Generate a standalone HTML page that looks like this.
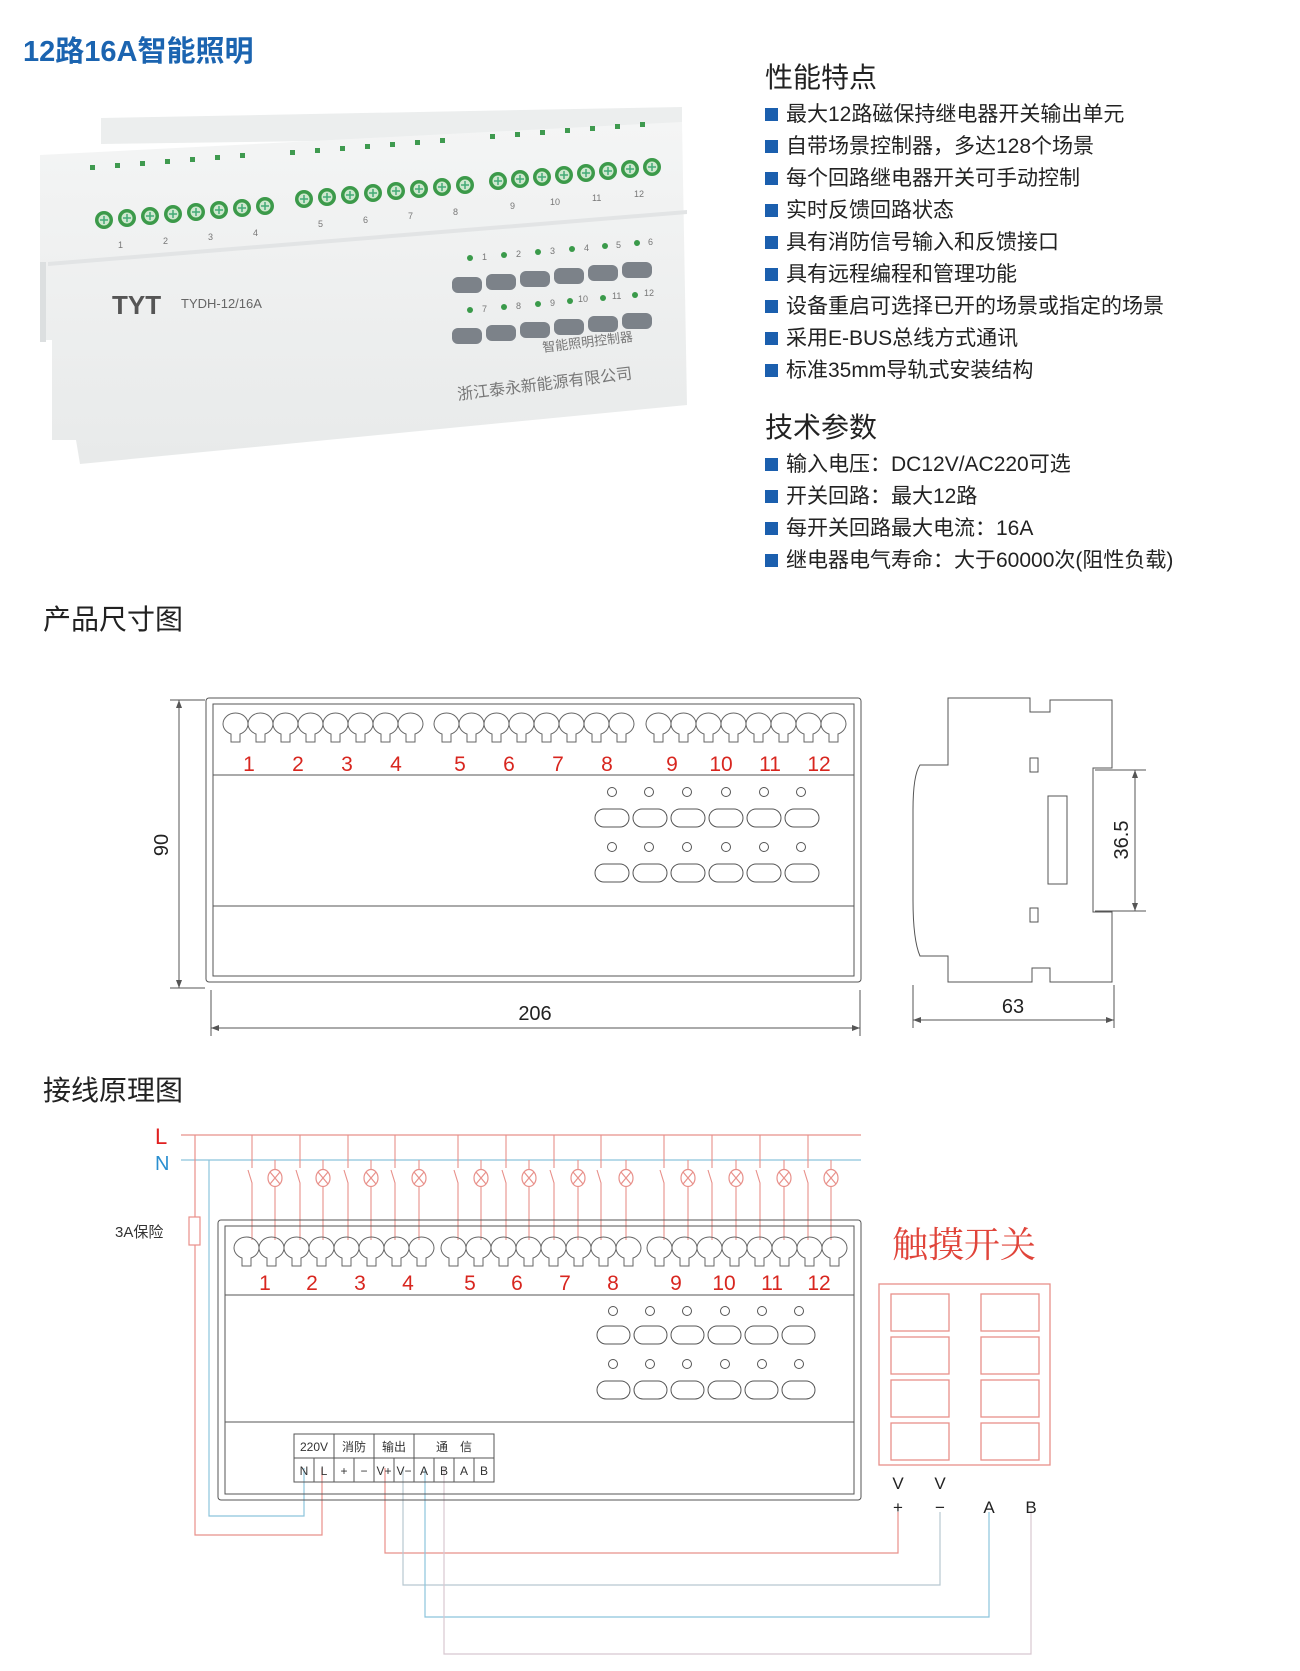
<!DOCTYPE html>
<html><head><meta charset="utf-8"><style>
html,body{margin:0;padding:0;background:#fff;}
body{width:1300px;height:1671px;position:relative;overflow:hidden;font-family:"Liberation Sans","Noto Sans CJK SC",sans-serif;}
.t{position:absolute;white-space:nowrap;}
.h{font-size:28px;color:#222;}
.b{font-size:21px;color:#222;}
.b:before{content:"";display:inline-block;width:13px;height:13px;background:#1b5fae;margin-right:8px;vertical-align:0px;}
</style></head><body>
<div class="t" style="left:23px;top:28px;font-size:29px;font-weight:bold;color:#1b64b0;">12路16A智能照明</div>
<div class="t h" style="left:765px;top:56px;">性能特点</div>
<div class="t b" style="left:765px;top:98px;">最大12路磁保持继电器开关输出单元</div>
<div class="t b" style="left:765px;top:130px;">自带场景控制器，多达128个场景</div>
<div class="t b" style="left:765px;top:162px;">每个回路继电器开关可手动控制</div>
<div class="t b" style="left:765px;top:194px;">实时反馈回路状态</div>
<div class="t b" style="left:765px;top:226px;">具有消防信号输入和反馈接口</div>
<div class="t b" style="left:765px;top:258px;">具有远程编程和管理功能</div>
<div class="t b" style="left:765px;top:290px;">设备重启可选择已开的场景或指定的场景</div>
<div class="t b" style="left:765px;top:322px;">采用E-BUS总线方式通讯</div>
<div class="t b" style="left:765px;top:354px;">标准35mm导轨式安装结构</div>
<div class="t h" style="left:765px;top:406px;">技术参数</div>
<div class="t b" style="left:765px;top:448px;">输入电压：DC12V/AC220可选</div>
<div class="t b" style="left:765px;top:480px;">开关回路：最大12路</div>
<div class="t b" style="left:765px;top:512px;">每开关回路最大电流：16A</div>
<div class="t b" style="left:765px;top:544px;">继电器电气寿命：大于60000次(阻性负载)</div>
<div class="t h" style="left:43px;top:598px;">产品尺寸图</div>
<div class="t h" style="left:43px;top:1069px;">接线原理图</div>

<svg width="1300" height="1671" style="position:absolute;left:0;top:0" xmlns="http://www.w3.org/2000/svg" font-family="Liberation Sans, Noto Sans CJK SC, sans-serif">
<defs>
<linearGradient id="gb" x1="0" y1="0" x2="0" y2="1"><stop offset="0" stop-color="#f4f5f5"/><stop offset="1" stop-color="#e8eaea"/></linearGradient>
<g id="sc"><circle r="9" fill="#3c9a4a"/><circle r="5.5" fill="#cfe8cf"/><path d="M-4,0h8M0,-4v8" stroke="#4a7" stroke-width="1.5"/></g>
<g id="tm" fill="none" stroke="#666" stroke-width="1"><path d="M0,12 a12.5,11 0 0 1 25,0 a12.5,11 0 0 1 -8,10 v8 h-9 v-8 a12.5,11 0 0 1 -8,-10z"/></g>
<g id="lamp" fill="none" stroke="#e8908a" stroke-width="1.2"><ellipse rx="7" ry="8.5"/><path d="M-5,-6L5,6M5,-6L-5,6"/></g>
</defs>

<!-- product photo -->
<polygon points="101,144 101,118 682,107 682,136" fill="#eceeee"/>
<polygon points="40,155 682,122 687,405 80,464 76,440 52,440 52,340 40,340" fill="url(#gb)"/>
<polygon points="48,262 687,210 687,214 48,266" fill="#e2e4e5"/>
<rect x="40" y="262" width="6" height="80" fill="#dcdfe0"/>
<g fill="#3f9a4f">
<rect x="90" y="165" width="5" height="5"/><rect x="115" y="163" width="5" height="5"/><rect x="140" y="161" width="5" height="5"/><rect x="165" y="159" width="5" height="5"/><rect x="190" y="157" width="5" height="5"/><rect x="215" y="155" width="5" height="5"/><rect x="240" y="153" width="5" height="5"/>
<rect x="290" y="150" width="5" height="5"/><rect x="315" y="148" width="5" height="5"/><rect x="340" y="146" width="5" height="5"/><rect x="365" y="144" width="5" height="5"/><rect x="390" y="142" width="5" height="5"/><rect x="415" y="140" width="5" height="5"/><rect x="440" y="138" width="5" height="5"/>
<rect x="490" y="134" width="5" height="5"/><rect x="515" y="132" width="5" height="5"/><rect x="540" y="130" width="5" height="5"/><rect x="565" y="128" width="5" height="5"/><rect x="590" y="126" width="5" height="5"/><rect x="615" y="124" width="5" height="5"/><rect x="640" y="122" width="5" height="5"/>
</g>
<g>
<use href="#sc" x="104" y="220"/><use href="#sc" x="127" y="218"/><use href="#sc" x="150" y="216"/><use href="#sc" x="173" y="214"/><use href="#sc" x="196" y="212"/><use href="#sc" x="219" y="210"/><use href="#sc" x="242" y="208"/><use href="#sc" x="265" y="206"/>
<use href="#sc" x="304" y="199"/><use href="#sc" x="327" y="197"/><use href="#sc" x="350" y="195"/><use href="#sc" x="373" y="193"/><use href="#sc" x="396" y="191"/><use href="#sc" x="419" y="189"/><use href="#sc" x="442" y="187"/><use href="#sc" x="465" y="185"/>
<use href="#sc" x="498" y="181"/><use href="#sc" x="520" y="179"/><use href="#sc" x="542" y="177"/><use href="#sc" x="564" y="175"/><use href="#sc" x="586" y="173"/><use href="#sc" x="608" y="171"/><use href="#sc" x="630" y="169"/><use href="#sc" x="652" y="167"/>
</g>
<g fill="#777" font-size="9">
<text x="118" y="248">1</text><text x="163" y="244">2</text><text x="208" y="240">3</text><text x="253" y="236">4</text>
<text x="318" y="227">5</text><text x="363" y="223">6</text><text x="408" y="219">7</text><text x="453" y="215">8</text>
<text x="510" y="209">9</text><text x="550" y="205">10</text><text x="592" y="201">11</text><text x="634" y="197">12</text>
<text x="482" y="260">1</text><text x="516" y="257">2</text><text x="550" y="254">3</text><text x="584" y="251">4</text><text x="616" y="248">5</text><text x="648" y="245">6</text>
<text x="482" y="312">7</text><text x="516" y="309">8</text><text x="550" y="306">9</text><text x="578" y="302">10</text><text x="612" y="299">11</text><text x="644" y="296">12</text>
</g>
<g fill="#3a9a4a">
<circle cx="470" cy="258" r="3"/><circle cx="504" cy="255" r="3"/><circle cx="538" cy="252" r="3"/><circle cx="572" cy="249" r="3"/><circle cx="605" cy="246" r="3"/><circle cx="637" cy="243" r="3"/>
<circle cx="470" cy="310" r="3"/><circle cx="504" cy="307" r="3"/><circle cx="538" cy="304" r="3"/><circle cx="570" cy="301" r="3"/><circle cx="603" cy="298" r="3"/><circle cx="635" cy="295" r="3"/>
</g>
<g fill="#7c8289">
<rect x="452" y="277" width="30" height="16" rx="6"/><rect x="486" y="274" width="30" height="16" rx="6"/><rect x="520" y="271" width="30" height="16" rx="6"/><rect x="554" y="268" width="30" height="16" rx="6"/><rect x="588" y="265" width="30" height="16" rx="6"/><rect x="622" y="262" width="30" height="16" rx="6"/>
<rect x="452" y="328" width="30" height="16" rx="6"/><rect x="486" y="325" width="30" height="16" rx="6"/><rect x="520" y="322" width="30" height="16" rx="6"/><rect x="554" y="319" width="30" height="16" rx="6"/><rect x="588" y="316" width="30" height="16" rx="6"/><rect x="622" y="313" width="30" height="16" rx="6"/>
</g>
<text x="112" y="314" font-size="26" font-weight="bold" fill="#555">TYT</text>
<text x="181" y="308" font-size="13" fill="#666">TYDH-12/16A</text>
<text x="543" y="352" font-size="13" fill="#777" transform="rotate(-7 543 352)">智能照明控制器</text>
<text x="458" y="400" font-size="16" fill="#777" transform="rotate(-7 458 400)">浙江泰永新能源有限公司</text>

<!-- dimension front -->
<g fill="none" stroke="#555" stroke-width="1">
<rect x="206" y="698" width="655" height="284" rx="3"/>
<rect x="213" y="704" width="641" height="272"/>
<line x1="213" y1="775" x2="854" y2="775"/>
<line x1="213" y1="906" x2="854" y2="906"/>
</g>
<g>
<use href="#tm" x="223" y="712"/><use href="#tm" x="248" y="712"/><use href="#tm" x="273" y="712"/><use href="#tm" x="298" y="712"/><use href="#tm" x="323" y="712"/><use href="#tm" x="348" y="712"/><use href="#tm" x="373" y="712"/><use href="#tm" x="398" y="712"/>
<use href="#tm" x="434" y="712"/><use href="#tm" x="459" y="712"/><use href="#tm" x="484" y="712"/><use href="#tm" x="509" y="712"/><use href="#tm" x="534" y="712"/><use href="#tm" x="559" y="712"/><use href="#tm" x="584" y="712"/><use href="#tm" x="609" y="712"/>
<use href="#tm" x="646" y="712"/><use href="#tm" x="671" y="712"/><use href="#tm" x="696" y="712"/><use href="#tm" x="721" y="712"/><use href="#tm" x="746" y="712"/><use href="#tm" x="771" y="712"/><use href="#tm" x="796" y="712"/><use href="#tm" x="821" y="712"/>
</g>
<g fill="#d8261f" font-size="21" text-anchor="middle">
<text x="249" y="771">1</text><text x="298" y="771">2</text><text x="347" y="771">3</text><text x="396" y="771">4</text>
<text x="460" y="771">5</text><text x="509" y="771">6</text><text x="558" y="771">7</text><text x="607" y="771">8</text>
<text x="672" y="771">9</text><text x="721" y="771">10</text><text x="770" y="771">11</text><text x="819" y="771">12</text>
</g>
<g fill="none" stroke="#555" stroke-width="1">
<circle cx="612" cy="792" r="4.5"/><circle cx="649" cy="792" r="4.5"/><circle cx="687" cy="792" r="4.5"/><circle cx="726" cy="792" r="4.5"/><circle cx="764" cy="792" r="4.5"/><circle cx="801" cy="792" r="4.5"/>
<circle cx="612" cy="847" r="4.5"/><circle cx="649" cy="847" r="4.5"/><circle cx="687" cy="847" r="4.5"/><circle cx="726" cy="847" r="4.5"/><circle cx="764" cy="847" r="4.5"/><circle cx="801" cy="847" r="4.5"/>
<rect x="595" y="809" width="34" height="18" rx="9"/><rect x="633" y="809" width="34" height="18" rx="9"/><rect x="671" y="809" width="34" height="18" rx="9"/><rect x="709" y="809" width="34" height="18" rx="9"/><rect x="747" y="809" width="34" height="18" rx="9"/><rect x="785" y="809" width="34" height="18" rx="9"/>
<rect x="595" y="864" width="34" height="18" rx="9"/><rect x="633" y="864" width="34" height="18" rx="9"/><rect x="671" y="864" width="34" height="18" rx="9"/><rect x="709" y="864" width="34" height="18" rx="9"/><rect x="747" y="864" width="34" height="18" rx="9"/><rect x="785" y="864" width="34" height="18" rx="9"/>
<line x1="179" y1="700" x2="179" y2="988"/><line x1="170" y1="700" x2="205" y2="700"/><line x1="170" y1="988" x2="205" y2="988"/>
<line x1="211" y1="1028" x2="860" y2="1028"/><line x1="211" y1="990" x2="211" y2="1036"/><line x1="860" y1="990" x2="860" y2="1036"/>
<line x1="1135" y1="770" x2="1135" y2="911"/><line x1="1095" y1="770" x2="1146" y2="770"/><line x1="1095" y1="911" x2="1146" y2="911"/>
<line x1="913" y1="1020" x2="1114" y2="1020"/><line x1="913" y1="985" x2="913" y2="1028"/><line x1="1114" y1="985" x2="1114" y2="1028"/>
<path d="M948,698 H1030 V712 H1050 V700 H1112 V768 H1093 V912 H1112 V982 H1050 V968 H1032 V982 H948 V956 H920 Q913,940 913,900 V810 Q913,775 920,765 H948 Z"/>
<rect x="1048" y="796" width="19" height="88"/>
<rect x="1030" y="758" width="8" height="14"/><rect x="1030" y="908" width="8" height="14"/>
</g>
<g fill="#555"><path d="M179,700l-3,8h6z"/><path d="M179,988l-3,-8h6z"/><path d="M211,1028l8,-3v6z"/><path d="M860,1028l-8,-3v6z"/><path d="M1135,770l-3,8h6z"/><path d="M1135,911l-3,-8h6z"/><path d="M913,1020l8,-3v6z"/><path d="M1114,1020l-8,-3v6z"/></g>
<g fill="#222" font-size="20" text-anchor="middle">
<text x="168" y="845" transform="rotate(-90 168 845)">90</text>
<text x="535" y="1020">206</text>
<text x="1013" y="1013">63</text>
<text x="1128" y="840" transform="rotate(-90 1128 840)">36.5</text>
</g>

<!-- wiring -->
<g stroke-width="1.2" fill="none">
<line x1="181" y1="1135" x2="861" y2="1135" stroke="#e8908a"/>
<line x1="181" y1="1160" x2="861" y2="1160" stroke="#8cc4dc"/>
<path d="M195,1135 V1217 M195,1245 V1535 H322 V1468" stroke="#e8908a"/>
<rect x="189" y="1217" width="11" height="28" stroke="#e8908a"/>
<path d="M209,1160 V1516 H304 V1468" stroke="#8cc4dc"/>
<path d="M385,1468 V1553 H898 V1512" stroke="#e8908a"/>
<path d="M403,1468 V1585 H940 V1512" stroke="#b8c8d0"/>
<path d="M425,1468 V1617 H989 V1512" stroke="#8cc4dc"/>
<path d="M444,1468 V1654 H1031 V1512" stroke="#d8c8d0"/>
</g>
<g stroke="#e8908a" stroke-width="1.1" fill="none">
<path d="M252,1135V1168M248,1170L252,1183V1240M300,1135V1168M296,1170L300,1183V1240M348,1135V1168M344,1170L348,1183V1240M395,1135V1168M391,1170L395,1183V1240"/>
<path d="M458,1135V1168M454,1170L458,1183V1240M506,1135V1168M502,1170L506,1183V1240M554,1135V1168M550,1170L554,1183V1240M601,1135V1168M597,1170L601,1183V1240"/>
<path d="M664,1135V1168M660,1170L664,1183V1240M712,1135V1168M708,1170L712,1183V1240M760,1135V1168M756,1170L760,1183V1240M808,1135V1168M804,1170L808,1183V1240"/>
<path d="M275,1160V1170M275,1187V1240M323,1160V1170M323,1187V1240M371,1160V1170M371,1187V1240M419,1160V1170M419,1187V1240M481,1160V1170M481,1187V1240M529,1160V1170M529,1187V1240M578,1160V1170M578,1187V1240M626,1160V1170M626,1187V1240M688,1160V1170M688,1187V1240M736,1160V1170M736,1187V1240M784,1160V1170M784,1187V1240M831,1160V1170M831,1187V1240"/>
</g>
<g>
<use href="#lamp" x="275" y="1178"/><use href="#lamp" x="323" y="1178"/><use href="#lamp" x="371" y="1178"/><use href="#lamp" x="419" y="1178"/><use href="#lamp" x="481" y="1178"/><use href="#lamp" x="529" y="1178"/><use href="#lamp" x="578" y="1178"/><use href="#lamp" x="626" y="1178"/><use href="#lamp" x="688" y="1178"/><use href="#lamp" x="736" y="1178"/><use href="#lamp" x="784" y="1178"/><use href="#lamp" x="831" y="1178"/>
</g>
<text x="155" y="1144" font-size="22" fill="#e02020">L</text>
<text x="155" y="1170" font-size="20" fill="#2a8fd0">N</text>
<text x="115" y="1237" font-size="15" fill="#333">3A保险</text>

<g fill="none" stroke="#555" stroke-width="1">
<rect x="218" y="1220" width="643" height="280" rx="3"/>
<rect x="225" y="1226" width="629" height="268"/>
<line x1="225" y1="1295" x2="854" y2="1295"/>
<line x1="225" y1="1422" x2="854" y2="1422"/>
</g>
<g>
<use href="#tm" x="234" y="1236"/><use href="#tm" x="259" y="1236"/><use href="#tm" x="284" y="1236"/><use href="#tm" x="309" y="1236"/><use href="#tm" x="334" y="1236"/><use href="#tm" x="359" y="1236"/><use href="#tm" x="384" y="1236"/><use href="#tm" x="409" y="1236"/>
<use href="#tm" x="441" y="1236"/><use href="#tm" x="466" y="1236"/><use href="#tm" x="491" y="1236"/><use href="#tm" x="516" y="1236"/><use href="#tm" x="541" y="1236"/><use href="#tm" x="566" y="1236"/><use href="#tm" x="591" y="1236"/><use href="#tm" x="616" y="1236"/>
<use href="#tm" x="647" y="1236"/><use href="#tm" x="672" y="1236"/><use href="#tm" x="697" y="1236"/><use href="#tm" x="722" y="1236"/><use href="#tm" x="747" y="1236"/><use href="#tm" x="772" y="1236"/><use href="#tm" x="797" y="1236"/><use href="#tm" x="822" y="1236"/>
</g>
<g fill="#d8261f" font-size="21" text-anchor="middle">
<text x="265" y="1290">1</text><text x="312" y="1290">2</text><text x="360" y="1290">3</text><text x="408" y="1290">4</text>
<text x="470" y="1290">5</text><text x="517" y="1290">6</text><text x="565" y="1290">7</text><text x="613" y="1290">8</text>
<text x="676" y="1290">9</text><text x="724" y="1290">10</text><text x="772" y="1290">11</text><text x="819" y="1290">12</text>
</g>
<g fill="none" stroke="#555" stroke-width="1">
<circle cx="613" cy="1311" r="4.5"/><circle cx="650" cy="1311" r="4.5"/><circle cx="687" cy="1311" r="4.5"/><circle cx="725" cy="1311" r="4.5"/><circle cx="762" cy="1311" r="4.5"/><circle cx="799" cy="1311" r="4.5"/>
<circle cx="613" cy="1364" r="4.5"/><circle cx="650" cy="1364" r="4.5"/><circle cx="687" cy="1364" r="4.5"/><circle cx="725" cy="1364" r="4.5"/><circle cx="762" cy="1364" r="4.5"/><circle cx="799" cy="1364" r="4.5"/>
<rect x="597" y="1326" width="33" height="18" rx="9"/><rect x="634" y="1326" width="33" height="18" rx="9"/><rect x="671" y="1326" width="33" height="18" rx="9"/><rect x="708" y="1326" width="33" height="18" rx="9"/><rect x="745" y="1326" width="33" height="18" rx="9"/><rect x="782" y="1326" width="33" height="18" rx="9"/>
<rect x="597" y="1381" width="33" height="18" rx="9"/><rect x="634" y="1381" width="33" height="18" rx="9"/><rect x="671" y="1381" width="33" height="18" rx="9"/><rect x="708" y="1381" width="33" height="18" rx="9"/><rect x="745" y="1381" width="33" height="18" rx="9"/><rect x="782" y="1381" width="33" height="18" rx="9"/>
<rect x="294" y="1434" width="200" height="48"/>
<line x1="294" y1="1458" x2="494" y2="1458"/>
<line x1="334" y1="1434" x2="334" y2="1482"/><line x1="374" y1="1434" x2="374" y2="1482"/><line x1="414" y1="1434" x2="414" y2="1482"/>
<line x1="314" y1="1458" x2="314" y2="1482"/><line x1="354" y1="1458" x2="354" y2="1482"/><line x1="394" y1="1458" x2="394" y2="1482"/><line x1="434" y1="1458" x2="434" y2="1482"/><line x1="454" y1="1458" x2="454" y2="1482"/><line x1="474" y1="1458" x2="474" y2="1482"/>
</g>
<g font-size="12" fill="#333" text-anchor="middle">
<text x="314" y="1451">220V</text><text x="354" y="1451">消防</text><text x="394" y="1451">输出</text><text x="454" y="1451">通　信</text>
<text x="304" y="1475">N</text><text x="324" y="1475">L</text><text x="344" y="1475">+</text><text x="364" y="1475">−</text><text x="384" y="1475">V+</text><text x="404" y="1475">V−</text><text x="424" y="1475">A</text><text x="444" y="1475">B</text><text x="464" y="1475">A</text><text x="484" y="1475">B</text>
</g>

<text x="892" y="1257" font-size="36" fill="#e0443a" font-family="Noto Serif CJK SC, serif">触摸开关</text>
<g fill="none" stroke="#e8908a" stroke-width="1.3">
<rect x="879" y="1284" width="171" height="181"/>
<rect x="891" y="1294" width="58" height="37"/><rect x="981" y="1294" width="58" height="37"/>
<rect x="891" y="1337" width="58" height="37"/><rect x="981" y="1337" width="58" height="37"/>
<rect x="891" y="1380" width="58" height="37"/><rect x="981" y="1380" width="58" height="37"/>
<rect x="891" y="1423" width="58" height="37"/><rect x="981" y="1423" width="58" height="37"/>
</g>
<g font-size="17" fill="#222" text-anchor="middle">
<text x="898" y="1489">V</text><text x="940" y="1489">V</text>
<text x="898" y="1513">+</text><text x="940" y="1513">−</text><text x="989" y="1513">A</text><text x="1031" y="1513">B</text>
</g>
</svg>
</body></html>
